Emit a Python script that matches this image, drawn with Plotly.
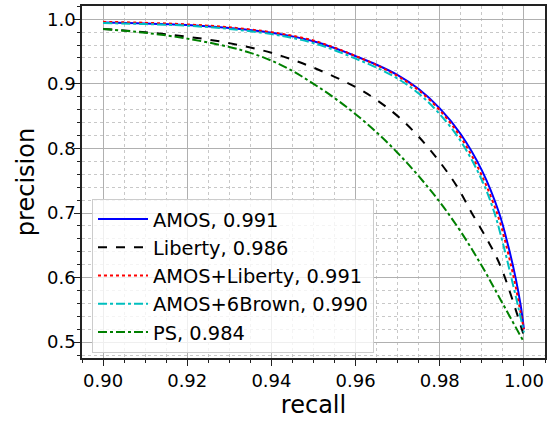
import plotly.graph_objects as go

# ---- data ----
amos_x = [0.900, 0.910, 0.920, 0.930, 0.940, 0.945, 0.950, 0.955, 0.960, 0.965, 0.970, 0.975,
          0.980, 0.985, 0.990, 0.9941, 0.9963, 0.9980, 0.9992, 1.000]
amos_y = [0.995, 0.9935, 0.991, 0.9865, 0.979, 0.9735, 0.966, 0.9555, 0.943, 0.9295, 0.9135, 0.892,
          0.862, 0.822, 0.766, 0.700, 0.648, 0.600, 0.558, 0.520]

amos_lib_x = amos_x
amos_lib_y = [0.996, 0.9945, 0.992, 0.9875, 0.980, 0.9745, 0.967, 0.9560, 0.943, 0.9290, 0.9120, 0.890,
              0.859, 0.817, 0.758, 0.690, 0.636, 0.587, 0.546, 0.520]

brown_x = [0.900, 0.910, 0.920, 0.930, 0.940, 0.945, 0.950, 0.955, 0.960, 0.965, 0.970, 0.975,
           0.980, 0.985, 0.990, 0.993, 0.9952, 0.9970, 0.9988, 1.000]
brown_y = [0.994, 0.9925, 0.990, 0.985, 0.977, 0.971, 0.963, 0.952, 0.939, 0.925, 0.908, 0.885,
           0.853, 0.811, 0.751, 0.700, 0.648, 0.600, 0.550, 0.515]

lib_x = [0.900, 0.910, 0.920, 0.930, 0.940, 0.950, 0.960, 0.965, 0.970, 0.975, 0.980, 0.984,
         0.9876, 0.9910, 0.9936, 0.9952, 0.9968, 0.9983, 0.9995, 1.000]
lib_y = [0.985, 0.980, 0.973, 0.963, 0.948, 0.925, 0.895, 0.875, 0.850, 0.818, 0.779, 0.742,
         0.700, 0.662, 0.630, 0.605, 0.575, 0.545, 0.520, 0.510]

ps_x = [0.900, 0.910, 0.920, 0.930, 0.935, 0.940, 0.945, 0.950, 0.955, 0.960, 0.965, 0.970,
        0.975, 0.980, 0.985, 0.990, 0.9945, 1.000]
ps_y = [0.985, 0.979, 0.970, 0.957, 0.948, 0.936, 0.920, 0.900, 0.878, 0.853, 0.825, 0.793,
        0.757, 0.717, 0.671, 0.618, 0.565, 0.500]

names = ["AMOS, 0.991", "Liberty, 0.986", "AMOS+Liberty, 0.991", "AMOS+6Brown, 0.990", "PS, 0.984"]
colors = ["#0000ff", "#000000", "#ff0000", "#00bfbf", "#008000"]
dashes = ["solid", "dash", "dot", "dashdot", "dashdot"]

x_tickvals = [0.90, 0.92, 0.94, 0.96, 0.98, 1.00]
x_ticktext = ["0.90", "0.92", "0.94", "0.96", "0.98", "1.00"]
y_tickvals = [0.5, 0.6, 0.7, 0.8, 0.9, 1.0]
y_ticktext = ["0.5", "0.6", "0.7", "0.8", "0.9", "1.0"]

series = [(amos_x, amos_y), (lib_x, lib_y), (amos_lib_x, amos_lib_y), (brown_x, brown_y), (ps_x, ps_y)]

fig = go.Figure()
for i, ((xs, ys), n, c, d) in enumerate(zip(series, names, colors, dashes)):
    fig.add_trace(go.Scatter(
        x=xs, y=ys, mode="lines", name=n, legendgroup=f"g{i}",
        line=dict(color=c, width=2, dash=d, shape="spline", smoothing=1.0),
    ))

FONT = "DejaVu Sans"
axis_common = dict(
    showline=True, linecolor="#222222", linewidth=1.5, mirror=True,
    showgrid=True, gridcolor="#b0b0b0", gridwidth=1,
    ticks="outside", ticklen=6, tickwidth=1.2, tickcolor="#222222",
    tickfont=dict(family=FONT, size=18, color="#000000"),
    zeroline=False,
)

fig.update_xaxes(
    range=[0.895, 1.005], tickvals=x_tickvals, ticktext=x_ticktext,
    title=dict(text="recall", font=dict(family=FONT, size=24, color="#000000"), standoff=4),
    minor=dict(dtick=0.005, tick0=0.9, showgrid=True, gridcolor="#c8c8c8", griddash="dot",
               gridwidth=1, ticks="outside", ticklen=3.5, tickcolor="#222222"),
    automargin=False,
    **axis_common,
)
fig.update_yaxes(
    range=[0.4755, 1.0205], tickvals=y_tickvals, ticktext=y_ticktext,
    title=dict(text="precision", font=dict(family=FONT, size=24, color="#000000"), standoff=6),
    minor=dict(dtick=0.02, tick0=0.5, showgrid=True, gridcolor="#c8c8c8", griddash="dot",
               gridwidth=1, ticks="outside", ticklen=3.5, tickcolor="#222222"),
    automargin=False,
    ticklabelstandoff=-5,
    **axis_common,
)

fig.update_layout(
    width=554, height=421,
    margin=dict(l=82, r=9, t=6, b=63),
    paper_bgcolor="white", plot_bgcolor="white",
    font=dict(family=FONT, color="#000000"),
    legend=dict(
        x=0.0216, y=0.4517, xanchor="left", yanchor="top",
        bgcolor="rgba(255,255,255,0.8)", bordercolor="#cccccc", borderwidth=1,
        font=dict(family=FONT, size=19.4, color="#000000"),
        tracegroupgap=0, itemwidth=50,
    ),
    showlegend=True,
)

fig.write_html("out.html", config={"displayModeBar": False},
               post_script="document.body.style.margin='0';")
